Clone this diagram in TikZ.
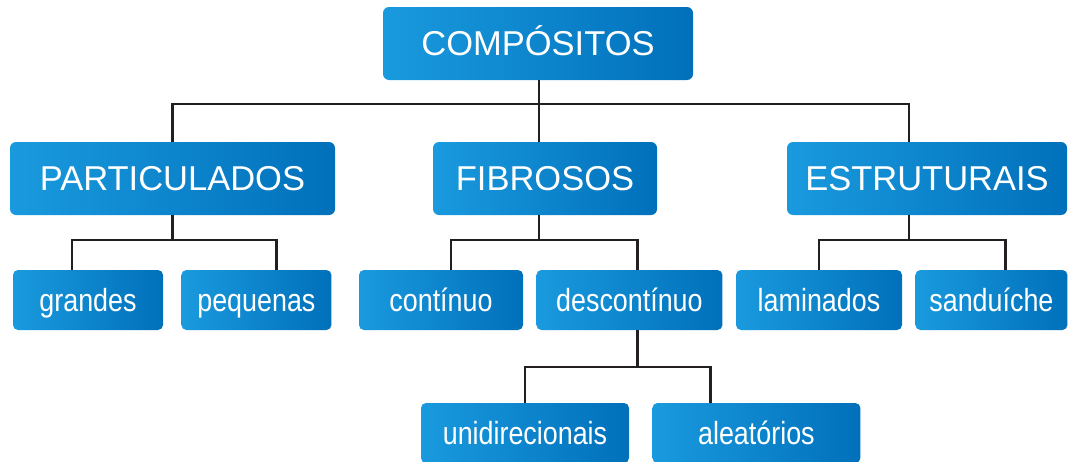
\documentclass[tikz,border=0pt]{standalone}
\usepackage{fontspec}
\setmainfont{Liberation Sans}
\newfontfamily\narrowfont[FakeStretch=0.84]{Liberation Sans}
\usetikzlibrary{positioning}
\definecolor{boxlight}{RGB}{26,154,222}
\definecolor{boxdark}{RGB}{0,112,186}
\definecolor{linkgray}{RGB}{35,31,32}

\begin{document}
\begin{tikzpicture}[
  x=1pt, y=-1pt,
  block/.style={rectangle, rounded corners=6pt, left color=boxlight, right color=boxdark, text=white, minimum height=73pt, inner sep=0pt, text height=24.8pt, text depth=0pt, font=\fontsize{34.5}{40}\selectfont},
  leaf/.style={rectangle, rounded corners=5pt, left color=boxlight, right color=boxdark, text=white, minimum height=60pt, inner sep=0pt, text height=23pt, text depth=0pt, font=\narrowfont\fontsize{32}{38}\selectfont},
  link/.style={draw=linkgray, line width=2.6pt}
]
\useasboundingbox (0,0) rectangle (1072,461);

\node[block, minimum width=310pt] (comp) at (538,43.5) {COMPÓSITOS};

\node[block, minimum width=325pt] (part) at (172.5,178.5) {PARTICULADOS};
\node[block, minimum width=224pt] (fib) at (545,178.5) {FIBROSOS};
\node[block, minimum width=280pt] (estr) at (927,178.5) {ESTRUTURAIS};

\node[leaf, minimum width=150pt] (grandes) at (88,300) {grandes};
\node[leaf, minimum width=150pt, right=18pt of grandes] (pequenas) {pequenas};
\node[leaf, minimum width=164pt] (cont) at (441,300) {contínuo};
\node[leaf, minimum width=186pt, right=13pt of cont] (desc) {descontínuo};
\node[leaf, minimum width=166pt] (lam) at (819,300) {laminados};
\node[leaf, minimum width=152pt, right=13pt of lam] (sand) {sanduíche};

\node[leaf, minimum width=208pt] (unid) at (525,433) {unidirecionais};
\node[leaf, minimum width=208pt, right=23pt of unid] (aleat) {aleatórios};

% bus levels
\coordinate (lvl1) at (0,104);
\coordinate (lvl2) at (0,240);
\coordinate (lvl3) at (0,367);

\draw[link] ([xshift=1pt]comp.south) -- ([xshift=1pt]comp.south |- fib.north);
\draw[link] (part.north) |- ([xshift=-18pt]estr.north |- lvl1) -- ([xshift=-18pt]estr.north);

\draw[link] (part.south) -- (part.south |- lvl2);
\draw[link] ([xshift=-16pt]grandes.north) |- ([xshift=20pt]pequenas.north |- lvl2) -- ([xshift=20pt]pequenas.north);

\draw[link] ([xshift=-6pt]fib.south) -- ([xshift=-6pt]fib.south |- lvl2);
\draw[link] ([xshift=10pt]cont.north) |- ([xshift=8pt]desc.north |- lvl2) -- ([xshift=8pt]desc.north);

\draw[link] ([xshift=-18pt]estr.south) -- ([xshift=-18pt]estr.south |- lvl2);
\draw[link] (lam.north) |- ([xshift=14pt]sand.north |- lvl2) -- ([xshift=14pt]sand.north);

\draw[link] ([xshift=8pt]desc.south) -- ([xshift=8pt]desc.south |- lvl3);
\draw[link] (unid.north) |- ([xshift=-46pt]aleat.north |- lvl3) -- ([xshift=-46pt]aleat.north);
\end{tikzpicture}
\end{document}
